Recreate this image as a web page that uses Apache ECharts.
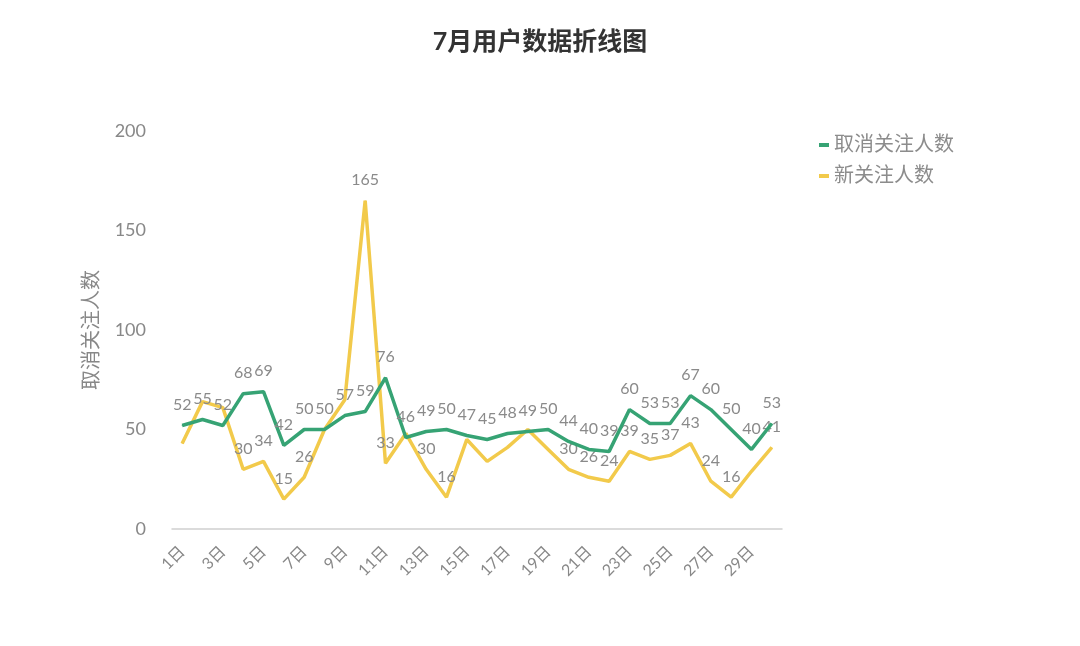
<!DOCTYPE html>
<html lang="zh">
<head>
    <meta charset="utf-8">
    <title>7月用户数据折线图</title>
    <script src="https://cdn.jsdelivr.net/npm/echarts@6/dist/echarts.min.js"></script>
    <style>
        html, body { margin: 0; padding: 0; background: #fff; }
        #chart { width: 1080px; height: 646px; }
    </style>
</head>
<body>
<div id="chart"></div>
<script>
    // 日期
    let days = [];
    for (let i = 1; i <= 30; i++) {
        days.push(i + '日');
    }
    // 取消关注人数
    let unfollow = [52, 55, 52, 68, 69, 42, 50, 50, 57, 59, 76, 46, 49, 50, 47,
        45, 48, 49, 50, 44, 40, 39, 60, 53, 53, 67, 60, 50, 40, 53];
    // 新关注人数
    let follow = [43, 64, 61, 30, 34, 15, 26, 50, 65, 165, 33, 48, 30, 16, 45,
        34, 41, 50, 40, 30, 26, 24, 39, 35, 37, 43, 24, 16, 29, 41];
    // 原图中新关注人数没有显示数值标签的日期序号（与其他标签重叠）
    let followNoLabel = [0, 1, 2, 7, 8, 11, 14, 15, 16, 17, 18, 28];
    let yTicks = [0, 50, 100, 150, 200];

    let font = 'Lato, "Noto Sans CJK SC", sans-serif';
    let myChart = echarts.init(document.getElementById('chart'));

    function lineSeries(name, data, color, z, noLabel) {
        return {
            name: name,
            type: 'line',
            data: data,
            color: color,
            symbol: 'circle',
            symbolSize: 1,
            showSymbol: true,
            itemStyle: {color: color},
            lineStyle: {width: 3.5, color: color},
            label: {
                show: true,
                position: 'top',
                color: '#8a8a8a',
                fontSize: 16,
                distance: 12,
                fontFamily: font,
                formatter: function (p) {
                    return noLabel.indexOf(p.dataIndex) >= 0 ? '' : p.value;
                }
            },
            z: z
        };
    }

    let option = {
        animation: false,
        textStyle: {fontFamily: font},
        title: {
            text: '7月用户数据折线图',
            left: 'center',
            top: 24,
            textStyle: {fontSize: 25, fontWeight: 'bold', color: '#333', fontFamily: font}
        },
        legend: {
            orient: 'vertical',
            left: 814,
            top: 130,
            itemWidth: 10,
            itemHeight: 4,
            itemGap: 11,
            icon: 'rect',
            textStyle: {fontSize: 20, color: '#8c8c8c', fontFamily: font},
            data: ['取消关注人数', '新关注人数']
        },
        grid: {left: 172, right: 298, top: 131, bottom: 117},
        xAxis: {
            type: 'category',
            data: days,
            axisLine: {lineStyle: {color: '#cfcfcf', width: 1.5}},
            axisTick: {show: false},
            axisLabel: {
                interval: 1,
                rotate: 45,
                color: '#888',
                fontSize: 16,
                margin: 20,
                fontFamily: font
            }
        },
        yAxis: {
            type: 'value',
            min: yTicks[0],
            max: yTicks[yTicks.length - 1],
            interval: 50,
            name: '取消关注人数',
            nameLocation: 'middle',
            nameGap: 70,
            nameTextStyle: {fontSize: 20, color: '#888', fontFamily: font},
            axisLine: {show: false},
            axisTick: {show: false},
            splitLine: {show: false},
            axisLabel: {color: '#888', fontSize: 18, margin: 26, fontFamily: font}
        },
        series: [
            lineSeries('取消关注人数', unfollow, '#36a374', 3, []),
            lineSeries('新关注人数', follow, '#f2ca4b', 2, followNoLabel)
        ]
    };
    myChart.setOption(option);
</script>
</body>
</html>
